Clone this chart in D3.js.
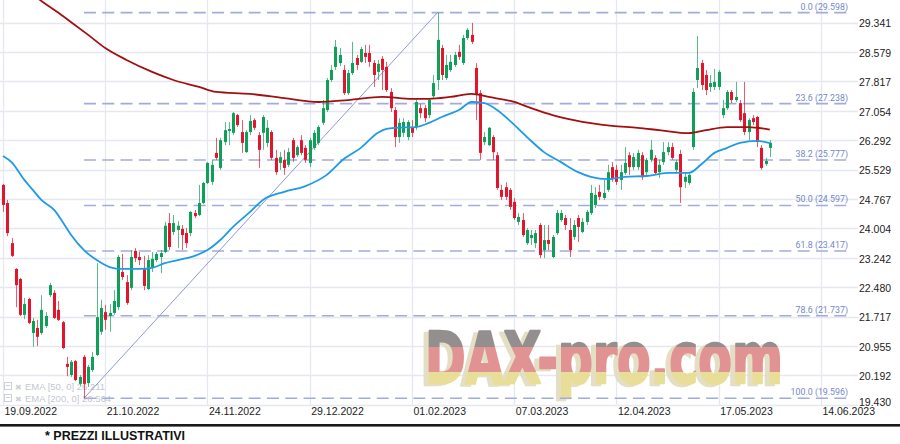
<!DOCTYPE html>
<html><head><meta charset="utf-8">
<script src="https://cdn.jsdelivr.net/npm/d3@7"></script>
<style>body{margin:0;background:#fff}svg{display:block}</style>
</head><body><svg id="c" width="900" height="444"></svg>
<script>
// ---- DATA ----
const openP=[25.13,24.66,23.62,22.95,22.69,21.76,22.17,21.29,21.42,21.29,21.47,22.27,22.33,21.89,21.57,20.49,20.20,20.56,19.97,20.67,19.99,20.33,20.72,21.32,21.83,21.73,21.81,21.96,22.87,22.61,22.46,23.42,23.26,22.97,22.43,23.00,23.18,23.26,23.39,24.14,23.91,23.96,23.99,23.88,23.88,24.40,24.35,24.66,25.18,25.21,25.96,25.57,26.24,26.53,26.48,26.94,26.50,25.98,26.50,26.81,26.42,26.48,26.22,26.50,25.83,25.70,25.78,25.65,26.29,25.90,26.29,26.09,25.70,26.09,26.22,26.74,27.07,27.85,28.19,28.29,28.11,27.51,28.03,28.42,28.32,28.55,28.55,28.29,28.06,28.40,28.19,27.54,27.07,26.37,26.48,26.37,26.63,26.63,27.12,27.12,26.94,27.43,27.85,28.68,27.90,28.11,28.24,28.58,28.29,28.94,29.02,28.16,27.51,26.24,26.16,26.37,25.90,25.00,25.07,25.00,24.69,24.17,24.22,23.62,23.75,23.62,24.09,23.44,23.70,23.26,23.88,24.22,24.27,23.96,23.78,24.27,23.91,24.17,24.40,24.61,24.95,24.79,25.00,25.59,25.52,25.26,25.44,25.90,25.59,25.59,25.90,25.46,25.78,25.83,25.46,25.72,25.98,26.11,25.52,25.93,25.21,25.18,26.11,27.85,28.29,27.98,27.67,27.67,27.67,26.94,27.12,27.54,27.33,27.25,26.99,26.50,26.86,26.89,26.09,25.67,26.09];
const highP=[25.15,24.74,23.75,22.97,22.72,22.20,22.20,21.68,21.63,22.27,21.83,22.59,22.40,22.12,21.60,20.67,20.59,20.59,20.20,20.72,20.46,20.80,23.10,22.15,22.02,22.04,22.40,23.31,23.34,22.79,23.44,23.49,23.39,23.29,23.31,23.39,23.39,23.44,24.17,24.40,24.35,24.19,24.09,24.01,24.45,24.48,25.13,25.21,25.72,25.78,26.35,26.35,26.76,26.76,27.02,26.97,26.81,26.55,26.94,26.86,26.50,26.94,26.81,26.55,26.04,25.98,26.04,26.09,26.35,26.16,26.42,26.16,26.35,26.55,26.68,27.33,27.90,28.24,28.89,28.68,28.24,28.11,28.84,28.50,28.71,28.76,28.76,28.37,28.37,28.47,28.32,27.64,27.15,26.86,26.86,26.81,26.81,27.38,27.23,27.20,27.38,27.98,29.598,28.76,28.50,28.50,28.58,28.76,29.02,29.20,29.33,28.29,27.59,26.50,26.63,26.42,25.98,25.13,25.20,25.05,24.79,24.40,24.40,24.01,23.96,23.96,24.14,24.09,24.09,23.83,24.48,24.48,24.35,24.27,24.22,24.35,24.27,24.48,25.13,25.07,25.13,25.26,25.65,25.72,25.65,25.65,26.11,25.98,25.96,26.04,25.98,25.83,26.29,25.90,25.78,26.24,26.24,26.22,25.78,26.04,25.46,25.46,27.64,28.99,28.37,28.11,27.98,28.14,28.11,27.33,27.59,27.59,27.80,27.33,27.80,26.86,26.94,26.92,26.16,25.83,26.29];
const lowP=[24.43,23.80,23.26,21.96,21.73,21.65,21.52,20.93,20.95,21.24,21.42,22.22,21.65,21.60,20.87,20.17,20.15,20.04,19.92,19.596,19.89,20.28,20.69,21.24,21.37,21.32,21.76,21.89,22.66,22.02,22.40,23.13,23.05,22.40,22.40,22.87,23.13,22.84,23.36,23.44,23.83,23.49,23.44,23.49,23.80,24.27,24.32,24.63,25.15,25.13,25.78,25.52,26.16,26.16,26.42,26.63,25.96,25.96,26.42,26.55,25.57,26.04,26.11,25.78,25.39,25.52,25.39,25.59,25.73,25.85,25.90,25.70,25.59,26.04,26.16,26.68,27.02,27.80,28.11,28.21,27.46,27.46,27.98,28.11,28.29,28.29,28.19,27.67,27.85,27.59,27.54,27.02,26.11,26.22,26.37,26.29,26.37,26.55,26.86,26.76,26.86,27.38,27.59,27.85,27.85,28.06,28.19,28.37,28.24,28.89,28.78,26.81,25.78,26.16,26.14,25.78,25.00,24.74,24.74,24.48,24.22,24.09,23.78,23.57,23.57,23.49,23.23,23.23,23.44,23.23,23.83,24.17,23.96,23.26,23.70,23.65,23.88,24.09,24.35,24.53,24.74,24.74,24.95,25.21,25.13,25.00,25.39,25.39,25.52,25.52,25.26,25.39,25.72,25.39,25.31,25.65,25.90,25.78,25.46,24.66,25.05,25.13,26.04,27.64,27.59,27.46,27.54,27.59,27.59,26.86,27.07,27.25,27.28,26.76,26.42,26.29,26.68,26.11,25.52,25.62,25.85];
const closeP=[24.61,23.88,23.29,22.53,21.76,22.04,21.55,21.60,21.19,21.89,21.73,22.53,21.68,21.63,20.90,20.41,20.54,20.07,20.15,19.97,20.41,20.67,21.70,21.94,21.63,21.81,22.12,23.26,22.74,22.07,23.26,23.23,23.18,22.51,23.18,23.21,23.34,23.36,24.07,23.52,24.14,24.07,23.83,23.62,24.43,24.32,24.66,25.18,25.70,25.65,25.83,26.29,26.55,26.58,26.99,26.68,26.22,26.50,26.79,26.61,26.04,26.89,26.61,25.83,25.46,25.85,25.57,25.98,25.83,26.11,25.96,25.78,26.29,26.48,26.63,27.12,27.85,28.11,28.71,28.50,27.51,28.03,28.29,28.24,28.65,28.45,28.32,27.98,28.27,28.11,27.59,27.12,26.37,26.74,26.76,26.76,26.48,27.28,26.99,26.86,27.33,27.77,28.89,27.98,28.24,28.32,28.50,28.45,28.94,29.15,28.84,27.46,25.96,26.37,26.61,25.98,25.05,24.82,24.82,24.56,24.27,24.30,23.83,23.96,23.83,23.88,23.31,23.70,23.60,23.78,24.40,24.40,24.09,23.44,24.09,24.04,24.17,24.43,24.92,24.87,24.82,24.92,25.46,25.31,25.21,25.46,25.70,25.59,25.85,25.96,25.33,25.78,26.04,25.44,25.65,25.98,26.11,25.83,25.72,25.07,25.34,25.39,27.54,28.16,27.72,27.59,27.77,27.80,28.06,27.12,27.54,27.33,27.41,26.81,26.50,26.81,26.76,26.24,25.57,25.75,26.22];

const ema50Idx=[0,2,5,7,9,12,14,16,19,22,25,28,32,35,38,41,45,48,51,54,58,61,66,71,76,80,84,88,90,92,97,100,103,107,110,113,116,119,123,127,131,135,138,142,146,151,156,161,164,167,170,173,177,180];
const ema50Val=[25.88,25.72,25.26,25.00,24.74,24.48,24.17,23.83,23.44,23.18,23.00,22.95,22.95,22.98,23.10,23.18,23.29,23.44,23.70,24.04,24.43,24.74,24.95,25.10,25.39,25.80,26.09,26.48,26.58,26.61,26.63,26.74,26.89,27.07,27.28,27.25,27.07,26.79,26.37,25.98,25.72,25.46,25.34,25.28,25.34,25.36,25.44,25.44,25.67,25.96,26.09,26.22,26.27,26.211];
const ema200Idx=[0,9,12,16,20,24,29,35,40,46,50,58,66,74,81,89,96,100,105,110,114,120,124,129,134,138,143,149,154,161,165,170,175,180];
const ema200Val=[30.70,29.90,29.67,29.35,29.02,28.68,28.37,28.06,27.85,27.67,27.54,27.49,27.38,27.28,27.33,27.41,27.36,27.36,27.41,27.49,27.41,27.28,27.12,26.94,26.81,26.73,26.66,26.61,26.55,26.47,26.55,26.63,26.63,26.564];

const yTicks=[29.341,28.579,27.817,27.054,26.292,25.529,24.767,24.004,23.242,22.480,21.717,20.955,20.192,19.430];
const xTickIdx=[0,24,48,72,96,120,144,168,192];
const xTickLabels=["19.09.2022","21.10.2022","24.11.2022","29.12.2022","01.02.2023","07.03.2023","12.04.2023","17.05.2023","14.06.2023"];

const fibPct=["0.0","23.6","38.2","50.0","61.8","78.6","100.0"];
const fibVal=[29.598,27.238,25.777,24.597,23.417,21.737,19.596];
const fibLowIdx=19, fibHighIdx=102;

const legendNames=["EMA [50, 0]","EMA [200, 0]"];
const legendVals=["26.211","26.564"];

// ---- SCALES ----
const svg=d3.select('#c');
const x=d3.scaleLinear().domain([0,24]).range([3,105.24]);
const y=d3.scaleLinear().domain([19.430,29.341]).range([404.7,22.5]);
const FONT='"Liberation Sans", Arial, sans-serif';
const plotBottom=y(19.430), gridRight=858;

svg.append('rect').attr('width',900).attr('height',444).attr('fill','#fff');

// gridlines
svg.append('g').selectAll('line').data(yTicks).join('line')
  .attr('x1',0).attr('x2',gridRight).attr('y1',d=>Math.round(y(d))+0.5).attr('y2',d=>Math.round(y(d))+0.5)
  .attr('stroke','#e6e8ef').attr('stroke-width',1.3);
svg.append('g').selectAll('line').data(xTickIdx).join('line')
  .attr('x1',d=>Math.round(x(d))+0.5).attr('x2',d=>Math.round(x(d))+0.5).attr('y1',0).attr('y2',plotBottom)
  .attr('stroke','#e6e8ef').attr('stroke-width',1.3);

// watermark
const defs=svg.append('defs');
const gr=defs.append('linearGradient').attr('id','flag').attr('gradientUnits','userSpaceOnUse')
  .attr('x1',0).attr('y1',328).attr('x2',0).attr('y2',392);
[[0,'#8e8a8a'],[0.297,'#8e8a8a'],[0.297,'#e08d8d'],[0.69,'#e08d8d'],[0.69,'#e7dd92'],[1,'#e7dd92']]
  .forEach(s=>gr.append('stop').attr('offset',s[0]).attr('stop-color',s[1]));
const wm=svg.append('g').attr('opacity',0.95);
wm.append('text').attr('x',420).attr('y',385).text('DAX-pro.com')
  .attr('font-family','"DejaVu Sans", sans-serif').attr('font-weight','bold').attr('font-size',72)
  .attr('textLength',358).attr('lengthAdjust','spacingAndGlyphs').attr('fill','#e3ddc2')
  .attr('stroke','#e3ddc2').attr('stroke-width',2.5).attr('stroke-linejoin','round');
wm.append('text').attr('x',425).attr('y',383).text('DAX-pro.com')
  .attr('font-family','"DejaVu Sans", sans-serif').attr('font-weight','bold').attr('font-size',72)
  .attr('textLength',358).attr('lengthAdjust','spacingAndGlyphs').attr('fill','url(#flag)')
  .attr('stroke','url(#flag)').attr('stroke-width',2.5).attr('stroke-linejoin','round');

// legend
const lg=svg.append('g');
legendNames.forEach((n,k)=>{
  const by=390+k*12;
  lg.append('rect').attr('x',4.5).attr('y',by-7.5).attr('width',7).attr('height',7).attr('fill','none').attr('stroke','#ccd0d8').attr('stroke-width',1);
  lg.append('line').attr('x1',6).attr('x2',10).attr('y1',by-4.5).attr('y2',by-4.5).attr('stroke','#ccd0d8');
  lg.append('text').attr('x',15).attr('y',by).text('\u2716').attr('font-size',8).attr('fill','#ccd0d8').attr('font-family','"DejaVu Sans"');
  lg.append('text').attr('x',25).attr('y',by).text(n+' '+legendVals[k]).attr('font-size',9.5).attr('fill','#c4c8d0').attr('font-family',FONT);
});

// fib
const fg=svg.append('g');
fg.selectAll('line').data(fibVal).join('line')
  .attr('x1',x(fibLowIdx)).attr('x2',x(199.4)).attr('y1',d=>y(d)).attr('y2',d=>y(d))
  .attr('stroke','#a2acdc').attr('stroke-width',1.6).attr('stroke-dasharray','12,6.3');
fg.append('line').attr('x1',x(fibLowIdx)).attr('y1',y(fibVal[6])).attr('x2',x(fibHighIdx)).attr('y2',y(fibVal[0]))
  .attr('stroke','#8e98d2').attr('stroke-width',1);
fg.selectAll('text').data(fibVal).join('text')
  .attr('x',848).attr('y',d=>y(d)-3).attr('text-anchor','end')
  .text((d,i)=>fibPct[i]+' ('+d.toFixed(3)+')')
  .attr('font-family','Roboto, sans-serif').attr('font-size',8.8).attr('fill','#7487c9');

// candles
const idx=d3.range(closeP.length);
const up=i=>closeP[i]>=openP[i];
const G='#0e9f58', R='#e2152c';
const cg=svg.append('g');
cg.selectAll('line').data(idx).join('line')
  .attr('x1',i=>Math.round(x(i))+0.5).attr('x2',i=>Math.round(x(i))+0.5)
  .attr('y1',i=>y(highP[i])).attr('y2',i=>y(lowP[i]))
  .attr('stroke',i=>up(i)?G:R).attr('stroke-opacity',0.7).attr('stroke-width',1);
cg.selectAll('rect').data(idx).join('rect')
  .attr('x',i=>Math.round(x(i))-1).attr('width',3)
  .attr('y',i=>y(Math.max(openP[i],closeP[i])))
  .attr('height',i=>Math.max(1,Math.abs(y(openP[i])-y(closeP[i]))))
  .attr('fill',i=>up(i)?G:R);

// EMAs
const line=(ix,vals)=>d3.line().x((d,k)=>x(ix[k])).y(d=>y(d)).curve(d3.curveMonotoneX)(vals);
svg.append('path').attr('d',line(ema200Idx,ema200Val)).attr('fill','none').attr('stroke','#a30f0f').attr('stroke-width',1.8);
svg.append('path').attr('d',line(ema50Idx,ema50Val)).attr('fill','none').attr('stroke','#1d9be6').attr('stroke-width',1.8);

// axes
const ya=svg.append('g').attr('transform',`translate(${gridRight},1)`)
  .call(d3.axisRight(y).tickValues(yTicks).tickFormat(d3.format('.3f')).tickSize(0).tickPadding(1));
ya.select('.domain').remove();
ya.selectAll('text').attr('font-family',FONT).attr('font-size',10.5).attr('fill','#222');
ya.selectAll('.tick').filter(d=>d===19.430).select('text').attr('y',-4);

const xa=svg.append('g').attr('transform',`translate(0,${plotBottom})`)
  .call(d3.axisBottom(x).tickValues(xTickIdx).tickFormat((d,i)=>xTickLabels[i]).tickSize(0).tickPadding(3));
xa.select('.domain').remove();
xa.selectAll('text').attr('text-anchor','start').attr('dx',1).attr('font-family',FONT).attr('font-size',10.5).attr('fill','#222');

// footer
svg.append('rect').attr('x',0).attr('y',424).attr('width',900).attr('height',2.6).attr('fill','#1a1a1a');
svg.append('text').attr('x',45).attr('y',440).text('* PREZZI ILLUSTRATIVI')
  .attr('font-family',FONT).attr('font-weight','bold').attr('font-size',12.5).attr('fill','#111');
</script></body></html>
